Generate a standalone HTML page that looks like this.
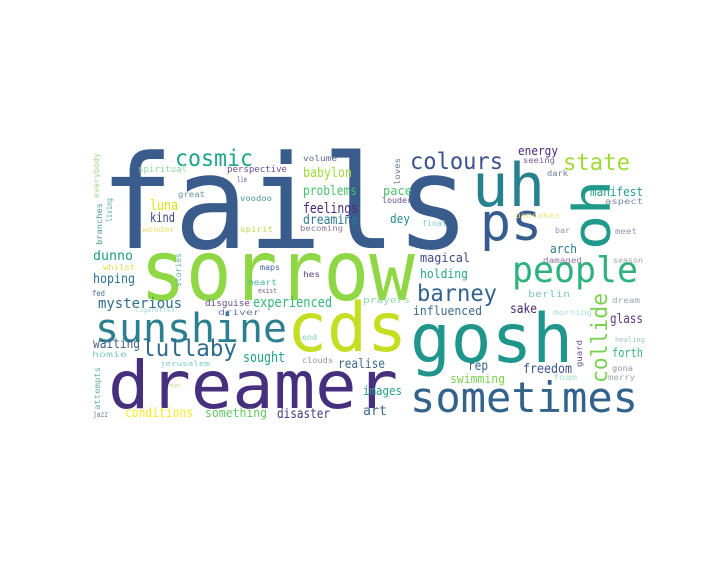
<!DOCTYPE html>
<html><head><meta charset="utf-8">
<style>
html,body{margin:0;padding:0;background:#fff;}
svg{display:block;}
text{font-family:"DejaVu Sans Mono","Liberation Mono",monospace;}
</style></head>
<body>
<svg id="cloud" width="720" height="576" viewBox="0 0 720 576" xmlns="http://www.w3.org/2000/svg">
<rect x="0" y="0" width="720" height="576" fill="#fff"/>
</svg>
<script>
// word, x, baseline y, font size, text length, colour, rotated
const words = [
["fails",100,248,130,370,"#3a5c8c",0],
["sorrow",140,300,84,275,"#8fd744",0],
["cds",287,351,68,120,"#c2df23",0],
["dreamer",108,408,66,290,"#46307e",0],
["gosh",410,362,68,163,"#1f958b",0],
["sometimes",410,412,42,228,"#33638d",0],
["sunshine",95,342,40,192,"#2c7f8e",0],
["uh",472,206,60,73,"#26828e",0],
["ps",480,240,52,62,"#365d8d",0],
["people",512,282,36,126,"#2db27d",0],
["cosmic",175,166,23,78,"#20a386",0],
["colours",410,169,23,93,"#3b528b",0],
["state",563,170,23,67,"#a0da39",0],
["lullaby",142,356,23,95,"#2f6b8e",0],
["barney",417,301,23,80,"#33638d",0],
["mysterious",98,308,14,84,"#2f6c8e",0],
["experienced",253,307,14,79,"#35b779",0],
["babylon",303,177,13,49,"#a0da39",0],
["problems",303,195,13,54,"#4ac16d",0],
["feelings",303,213,14,55,"#482878",0],
["dreaming",303,224,13,55,"#2a788e",0],
["luna",150,210,14,28,"#d8e219",0],
["kind",150,222,13,25,"#414487",0],
["dunno",93,260,13,40,"#1f9e89",0],
["hoping",93,283,13,42,"#2c728e",0],
["waiting",93,348,13,47,"#3e5f8a",0],
["sought",243,362,14,42,"#1fa187",0],
["realise",338,368,13,47,"#3e6a8a",0],
["conditions",125,417,13,68,"#fde725",0],
["something",205,417,12,62,"#5ec962",0],
["disaster",277,418,13,53,"#443983",0],
["art",363,415,13,24,"#3e6a8a",0],
["images",363,395,12,39,"#2a9d8a",0],
["swimming",450,383,12,55,"#7ad151",0],
["freedom",523,373,13,49,"#3b528b",0],
["rep",468,370,13,20,"#33638d",0],
["influenced",413,315,12,69,"#3b6a8e",0],
["sake",510,313,13,27,"#482878",0],
["glass",610,323,13,33,"#5b3a80",0],
["forth",612,357,12,31,"#35b779",0],
["magical",420,262,12,50,"#3e4a89",0],
["holding",420,278,12,48,"#22a884",0],
["manifest",590,196,12,53,"#1f9e89",0],
["energy",518,155,12,40,"#482878",0],
["pace",383,195,12,29,"#4ac16d",0],
["dey",390,223,12,20,"#2a8a8e",0],
["arch",550,253,12,27,"#2a788e",0],
["spiritual",138,172,9,49,"#8fd7a0",0],
["perspective",227,172,9,60,"#6a4c93",0],
["volume",303,161,8,34,"#5d6c97",0],
["lie",237,182,8,10,"#6a5c93",0],
["great",178,197,8,27,"#6b8f9a",0],
["voodoo",240,201,8,32,"#4a9b94",0],
["wonder",142,232,8,33,"#eadf6a",0],
["spirit",240,232,8,33,"#b9de4a",0],
["becoming",300,231,8,43,"#8a7ba0",0],
["whilst",103,270,8,32,"#e8d84a",0],
["maps",260,270,8,20,"#46609a",0],
["hes",303,277,8,17,"#5b3a80",0],
["heart",248,285,8,29,"#4fb6a0",0],
["fed",92,296,8,13,"#4a6a9a",0],
["exist",258,293,7,19,"#7a5a96",0],
["disguise",205,306,9,45,"#6a4c93",0],
["cigarettes",135,312,6,40,"#9fd4cd",0],
["driver",218,315,8,42,"#6a78a0",0],
["end",302,340,8,15,"#7fcbc0",0],
["homie",92,357,8,35,"#7fc8c0",0],
["clouds",302,363,8,31,"#8a98a8",0],
["jerusalem",160,366,7,50,"#7fc8c0",0],
["mun",170,387,5,10,"#b5de8b",0],
["jazz",93,417,8,15,"#6a7a9a",0],
["seeing",523,163,8,32,"#7a5a96",0],
["dark",547,176,8,21,"#6a7a9a",0],
["aspect",605,204,8,38,"#7a88a0",0],
["louder",382,203,8,30,"#6a4c93",0],
["final",422,226,8,25,"#7fcbc0",0],
["pancakes",515,218,8,45,"#f0e58a",0],
["bar",555,233,8,15,"#8a98a8",0],
["meet",615,234,8,22,"#8a98a8",0],
["damaged",543,263,8,39,"#8a7ba0",0],
["season",613,263,8,30,"#9aa8b0",0],
["prayers",363,303,9,47,"#8fd7a0",0],
["berlin",528,297,9,42,"#7fc8c0",0],
["dream",612,303,8,28,"#9aa8b0",0],
["morning",553,315,8,39,"#a8dcd5",0],
["healing",615,342,7,30,"#9ac8c8",0],
["gona",612,371,8,21,"#8a98a8",0],
["merry",608,380,8,27,"#9aa8b0",0],
["foam",553,380,8,24,"#a8dcd5",0],
["oh",610,250,52,70,"#1f9a8a",1],
["collide",607,383,22,90,"#7ad151",1],
["guard",582,367,8,27,"#6a4c93",1],
["everybody",99,198,8,45,"#a0d88a",1],
["branches",102,245,8,42,"#4a9b94",1],
["living",112,222,8,24,"#5aa9a0",1],
["stories",181,287,8,34,"#6ab0a8",1],
["attempts",100,410,8,43,"#6ab0a8",1],
["loves",400,185,8,27,"#6a7a9a",1]
];
const svg = document.getElementById('cloud');
const NS = "http://www.w3.org/2000/svg";
for (const w of words) {
  const t = document.createElementNS(NS, 'text');
  
  
  t.setAttribute('font-size', w[3]);
  t.setAttribute('fill', w[5]);
  t.setAttribute('textLength', w[4]);
  t.setAttribute('lengthAdjust', 'spacingAndGlyphs');
  if (w[6]) {
    t.setAttribute('x', 0);
    t.setAttribute('y', 0);
    t.setAttribute('transform', 'translate(' + w[1] + ',' + w[2] + ') rotate(-90)');
  } else {
    t.setAttribute('x', w[1]);
    t.setAttribute('y', w[2]);
  }
  t.textContent = w[0];
  svg.appendChild(t);
}
</script>
</body></html>
